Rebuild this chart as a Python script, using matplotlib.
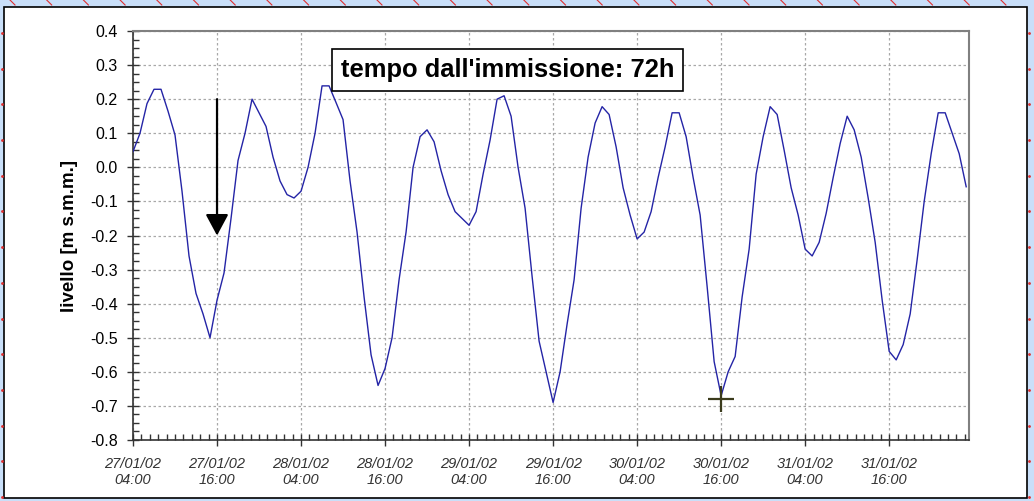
import numpy as np
from datetime import datetime, timedelta
import matplotlib
matplotlib.use("Agg")
from matplotlib import pyplot as plt
from matplotlib.ticker import MultipleLocator, FuncFormatter
from matplotlib.patches import Rectangle
from matplotlib.lines import Line2D

plt.rcParams['font.family'] = ['Liberation Sans', 'DejaVu Sans']

# hourly water level, starting 27/01/02 04:00
start = datetime(2002, 1, 27, 4, 0)
ore = np.arange(120)
livello = [
    0.046, 0.10, 0.187, 0.229, 0.229, 0.165, 0.095, -0.07, -0.26, -0.37,
    -0.43, -0.50, -0.39, -0.31, -0.15, 0.02, 0.10, 0.20, 0.16, 0.12,
    0.03, -0.04, -0.08, -0.09, -0.07, 0.0, 0.10, 0.239, 0.239, 0.19,
    0.14, -0.04, -0.19, -0.38, -0.55, -0.64, -0.59, -0.50, -0.33, -0.19,
    0.0, 0.09, 0.11, 0.075, -0.01, -0.08, -0.13, -0.15, -0.17, -0.13,
    -0.02, 0.08, 0.20, 0.21, 0.15, 0.0, -0.12, -0.32, -0.51, -0.60,
    -0.69, -0.60, -0.46, -0.33, -0.12, 0.03, 0.13, 0.178, 0.155, 0.06,
    -0.06, -0.14, -0.21, -0.19, -0.13, -0.03, 0.06, 0.16, 0.16, 0.09,
    -0.03, -0.14, -0.35, -0.57, -0.67, -0.60, -0.555, -0.38, -0.24, -0.02,
    0.09, 0.178, 0.155, 0.05, -0.06, -0.14, -0.24, -0.26, -0.22, -0.135,
    -0.03, 0.07, 0.15, 0.11, 0.03, -0.09, -0.22, -0.39, -0.54, -0.565,
    -0.52, -0.43, -0.27, -0.10, 0.04, 0.16, 0.16, 0.10, 0.04, -0.057,
]
titolo = "tempo dall'immissione: 72h"
freccia_ora, freccia_da, freccia_a = 12, 0.2, -0.2
croce_ora, croce_val = 84, -0.68

W, H = 1034, 501
fig = plt.figure(figsize=(W / 100, H / 100), dpi=100)
fig.patch.set_facecolor('#C9DFF9')

# white sheet with black border
fig.patches.append(Rectangle((4 / W, 3 / H), 1023 / W, 491 / H, transform=fig.transFigure,
                             facecolor='white', edgecolor='black', linewidth=1.2, zorder=-5))
# little red marks on the blue margin
for px in np.arange(10, W, 36.7):
    fig.lines.append(Line2D([px / W, (px + 5) / W], [1.0, (H - 5) / H], transform=fig.transFigure,
                            color='#e03030', lw=0.8, zorder=-4))
for py in np.arange(33, H, 35.7):
    for px in (2, 1029):
        fig.lines.append(Line2D([px / W], [1 - py / H], transform=fig.transFigure,
                                marker='.', ms=2, color='#e03030', lw=0, zorder=-4))

ax = fig.add_axes([133 / W, 61 / H, 836 / W, 409 / H])
ax.set_zorder(1)
ax.plot(ore, livello, color='#2424a6', lw=1.0, zorder=3)
ax.set_xlim(0, 119.4)
ax.set_ylim(-0.8, 0.4)

ax.yaxis.set_major_locator(MultipleLocator(0.1))
ax.yaxis.set_minor_locator(MultipleLocator(0.025))
ax.xaxis.set_major_locator(MultipleLocator(12))
ax.xaxis.set_minor_locator(MultipleLocator(1.2))
ax.yaxis.set_major_formatter(FuncFormatter(lambda v, p: f"{v:.1f}" if abs(v) > 1e-9 else "0.0"))
ax.xaxis.set_major_formatter(FuncFormatter(
    lambda h, p: (start + timedelta(hours=h)).strftime('%d/%m/%y\n%H:%M')))

ax.tick_params(which='major', direction='inout', length=8, width=1, color='#333333')
ax.tick_params(which='minor', direction='in', length=4, width=1, color='#333333')
ax.tick_params(axis='y', which='major', labelsize=11.5, pad=7)
ax.tick_params(axis='x', which='major', labelsize=10.5, pad=8, labelcolor='#333333')
for lab in ax.get_xticklabels():
    lab.set_fontstyle('italic')
ax.tick_params(right=False, top=False)

ax.grid(True, which='major', color='#a8a8a8', linestyle=(0, (2, 2)), linewidth=0.9)
for s in ('top', 'right'):
    ax.spines[s].set_color('#808080')
    ax.spines[s].set_linewidth(1.5)
for s in ('left', 'bottom'):
    ax.spines[s].set_color('#333333')
    ax.spines[s].set_linewidth(1.2)

ax.set_ylabel('livello [m s.m.m.]', fontsize=13.5, fontweight='bold')
ax.yaxis.set_label_coords(-0.066, 0.5)

ax.annotate('', xy=(freccia_ora, freccia_a), xytext=(freccia_ora, freccia_da),
            arrowprops=dict(arrowstyle='-|>,head_width=0.7,head_length=1.3',
                            color='black', lw=1.6, shrinkA=0, shrinkB=0), zorder=4)
ax.plot([croce_ora], [croce_val], marker='+', ms=19, mew=1.6, color='#3b3b1c', zorder=5)

ax.text(0.448, 0.905, titolo, transform=ax.transAxes, ha='center', va='center',
        fontsize=18.4, fontweight='bold', zorder=6,
        bbox=dict(boxstyle='square,pad=0.35', facecolor='white', edgecolor='black', linewidth=1.2))

fig.savefig('out.png', dpi=100, facecolor=fig.get_facecolor())
